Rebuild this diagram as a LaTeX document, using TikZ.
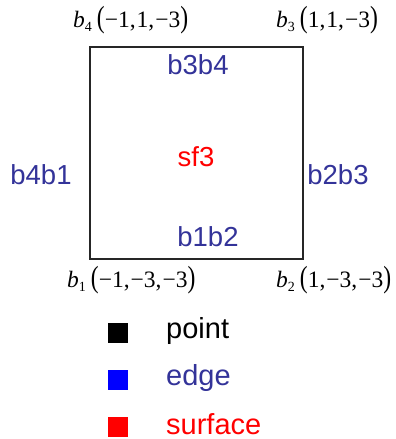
\documentclass[tikz,border=0pt]{standalone}
\usepackage{fontspec}
\usepackage{graphicx}
\setmainfont{Liberation Sans}
\newfontfamily\tms{Liberation Serif}
\definecolor{edgeblue}{HTML}{333399}
\definecolor{sqblue}{HTML}{0000FF}
\definecolor{sqred}{HTML}{FF0000}
\newcommand\ptlab[2]{{\tms\fontsize{23.5}{23.5}\selectfont\textit{b}\raisebox{-0.35ex}{\fontsize{14}{14}\selectfont #1}\kern5pt\scalebox{1}[1.3]{(}#2\scalebox{1}[1.3]{)}}}
\begin{document}
\begin{tikzpicture}[x=1pt,y=-1pt,
  edgelbl/.style={text=edgeblue,font=\fontsize{27.5}{27.5}\selectfont,inner sep=0pt},
  surflbl/.style={text=sqred,font=\fontsize{27.5}{27.5}\selectfont,inner sep=0pt},
  ptlbl/.style={anchor=west,inner sep=0pt},
  legsq/.style={minimum size=20pt,inner sep=0pt,draw=none},
  legtxt/.style={anchor=west,inner sep=0pt,font=\fontsize{29}{29}\selectfont}]
\useasboundingbox (0,0) rectangle (396,439);
\node[draw=black!85,line width=1.2pt,minimum width=213pt,minimum height=212pt,inner sep=0pt] (box) at (196.5,153) {};
% corner labels
\node[ptlbl] (b4) at (73,20) {\ptlab{4}{−1,\kern1pt1,\kern1pt−3}};
\node[ptlbl] (b3) at (276,20) {\ptlab{3}{1,\kern1pt1,\kern1pt−3}};
\node[ptlbl] (b1) at (67,280) {\ptlab{1}{−1,\kern1pt−3,\kern1pt−3}};
\node[ptlbl] (b2) at (276,280) {\ptlab{2}{1,\kern1pt−3,\kern1pt−3}};
% edge and surface labels
\node[edgelbl] (e34) at (198,65) {b3b4};
\node[edgelbl] (e41) at (41,175) {b4b1};
\node[edgelbl] (e23) at (338,175) {b2b3};
\node[edgelbl] (e12) at (208,237) {b1b2};
\node[surflbl] (sf) at (196,157) {sf3};
% legend
\node[legsq,fill=black] (sq1) at (118,333) {};
\node[legsq,fill=sqblue] (sq2) at (118,380) {};
\node[legsq,fill=sqred] (sq3) at (118,427) {};
\node[legtxt,text=black] (t1) at (166,331) {point};
\node[legtxt,text=edgeblue] (t2) at (166,378) {edge};
\node[legtxt,text=sqred] (t3) at (166,424) {surface};
\end{tikzpicture}
\end{document}
